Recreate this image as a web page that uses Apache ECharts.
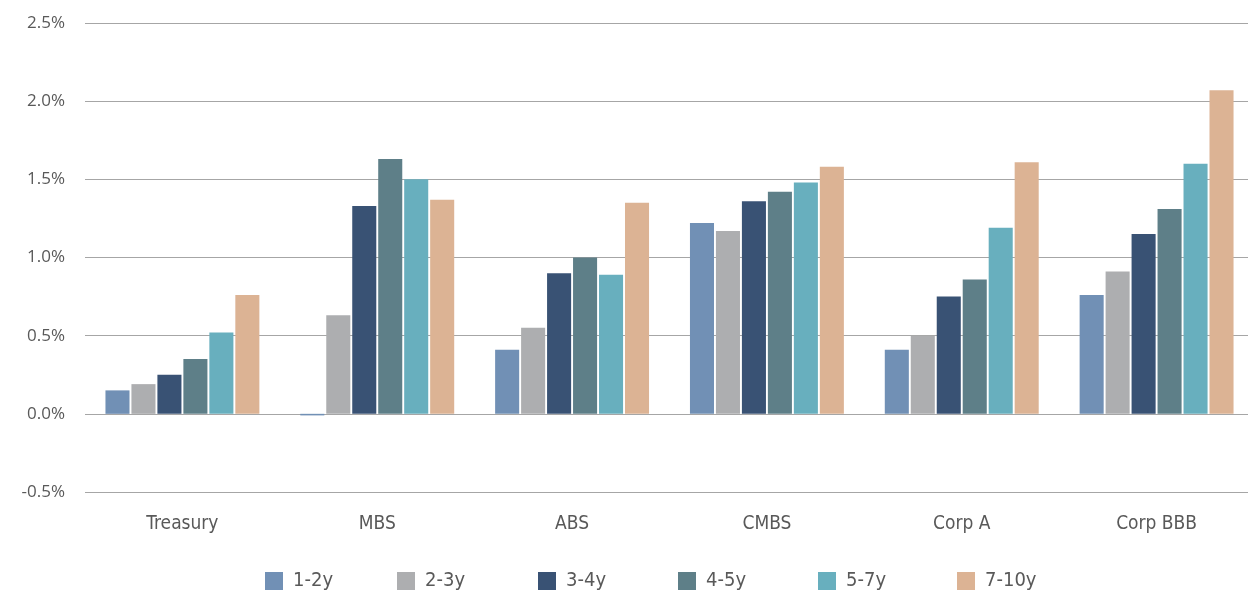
<!DOCTYPE html>
<html>
<head>
<meta charset="utf-8">
<script src="https://cdn.jsdelivr.net/npm/echarts@6/dist/echarts.min.js"></script>
<style>
  html, body { margin: 0; padding: 0; background: #ffffff; }
  #chart { width: 1248px; height: 593px; }
</style>
</head>
<body>
<div id="chart"></div>
<script>
// Sectors on the category axis
const categories = ['Treasury', 'MBS', 'ABS', 'CMBS', 'Corp A', 'Corp BBB'];

// Maturity buckets (legend entries)
const buckets = ['1-2y', '2-3y', '3-4y', '4-5y', '5-7y', '7-10y'];

// Values in percent, one array per maturity bucket, ordered like categories
const y1to2  = [0.15, -0.01, 0.41, 1.22, 0.41, 0.76];
const y2to3  = [0.19, 0.63, 0.55, 1.17, 0.50, 0.91];
const y3to4  = [0.25, 1.33, 0.90, 1.36, 0.75, 1.15];
const y4to5  = [0.35, 1.63, 1.00, 1.42, 0.86, 1.31];
const y5to7  = [0.52, 1.50, 0.89, 1.48, 1.19, 1.60];
const y7to10 = [0.76, 1.37, 1.35, 1.58, 1.61, 2.07];

// Y-axis tick range (percent)
const yMin = -0.5;
const yMax = 2.5;
const yStep = 0.5;

const seriesValues = [y1to2, y2to3, y3to4, y4to5, y5to7, y7to10];
const colors = ['#7190b5', '#adaeb0', '#395274', '#5e7f88', '#68afbe', '#dcb394'];

// Left edge of each legend entry's swatch
const legendLefts = [265, 397, 538, 678, 818, 957];

const chart = echarts.init(document.getElementById('chart'), null, { renderer: 'canvas' });

const labelFont = '"Open Sans", "Noto Sans", sans-serif';
const narrowFont = '"Liberation Sans Narrow", "DejaVu Sans Condensed", sans-serif';

chart.setOption({
  animation: false,
  backgroundColor: '#ffffff',
  color: colors,
  // the plot runs slightly past the right edge so the gridlines reach it
  grid: { left: 85, width: 1169, top: 23, bottom: 101, containLabel: false, outerBoundsMode: 'none' },
  legend: buckets.map((name, i) => ({
    data: [name],
    left: legendLefts[i],
    top: 571,
    padding: 0,
    itemWidth: 18,
    itemHeight: 18,
    icon: 'rect',
    textStyle: {
      fontFamily: narrowFont,
      fontSize: 20,
      color: '#595959',
      padding: [0, 0, 0, 5]
    },
    selectedMode: false
  })),
  xAxis: {
    type: 'category',
    data: categories,
    axisLine: { show: false },
    axisTick: { show: false },
    axisLabel: {
      fontFamily: narrowFont,
      fontSize: 19,
      color: '#595959',
      margin: 23
    }
  },
  yAxis: {
    type: 'value',
    min: yMin,
    max: yMax,
    interval: yStep,
    axisLine: { show: false },
    axisTick: { show: false },
    axisLabel: {
      fontFamily: labelFont,
      fontSize: 17,
      color: '#595959',
      margin: 20,
      formatter: v => v.toFixed(1) + '%'
    },
    splitLine: { lineStyle: { color: '#a6a6a6', width: 1 } }
  },
  series: buckets.map((name, i) => ({
    name: name,
    type: 'bar',
    data: seriesValues[i],
    barGap: '8%',
    barCategoryGap: '21%',
    itemStyle: { color: colors[i] }
  }))
});
</script>
</body>
</html>
